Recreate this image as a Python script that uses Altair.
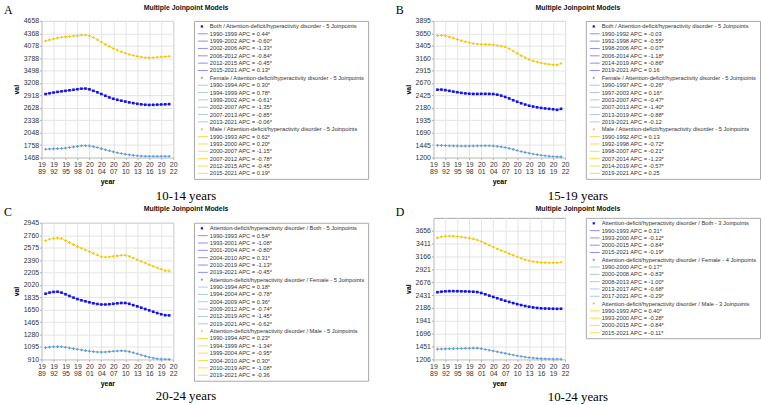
import altair as alt
import pandas as pd

years = list(range(1990, 2022))

# ---- 10-14 years ----
a_both = [2950, 2968, 2985, 3000, 3013, 3025, 3038, 3050, 3063, 3075, 3078, 3060, 3025, 2990, 2950, 2910,
          2870, 2840, 2815, 2795, 2775, 2755, 2738, 2722, 2710, 2700, 2695, 2698, 2702, 2706, 2710, 2714]
a_female = [1660, 1665, 1670, 1675, 1680, 1690, 1702, 1715, 1728, 1742, 1745, 1738, 1722, 1700, 1675, 1650,
            1625, 1600, 1580, 1562, 1545, 1530, 1518, 1508, 1502, 1498, 1496, 1496, 1496, 1496, 1496, 1496]
a_male = [4190, 4215, 4240, 4262, 4275, 4285, 4295, 4305, 4315, 4325, 4330, 4310, 4270, 4220, 4165, 4110,
          4060, 4015, 3975, 3940, 3905, 3875, 3850, 3830, 3815, 3800, 3795, 3800, 3810, 3818, 3825, 3832]

# ---- 15-19 years ----
b_both = [2538, 2540, 2530, 2515, 2500, 2488, 2475, 2465, 2458, 2455, 2455, 2456, 2456, 2455, 2452, 2440,
          2420, 2395, 2365, 2330, 2300, 2270, 2245, 2222, 2205, 2190, 2178, 2168, 2160, 2152, 2140, 2160]
b_female = [1440, 1438, 1435, 1432, 1430, 1428, 1426, 1425, 1426, 1428, 1430, 1432, 1433, 1432, 1428, 1420,
            1410, 1398, 1380, 1360, 1338, 1318, 1300, 1285, 1270, 1256, 1244, 1234, 1226, 1220, 1215, 1212]
b_male = [3605, 3610, 3605, 3580, 3555, 3530, 3505, 3485, 3465, 3450, 3440, 3435, 3432, 3428, 3420, 3410,
          3398, 3380, 3345, 3300, 3255, 3210, 3170, 3135, 3105, 3085, 3065, 3050, 3040, 3030, 3028, 3055]

# ---- 20-24 years ----
c_both = [1888, 1905, 1915, 1918, 1905, 1880, 1855, 1830, 1808, 1790, 1775, 1760, 1745, 1735, 1728, 1728,
          1732, 1738, 1745, 1750, 1750, 1738, 1718, 1700, 1680, 1660, 1640, 1620, 1600, 1582, 1568, 1565]
c_female = [1085, 1092, 1097, 1100, 1098, 1090, 1080, 1070, 1060, 1050, 1040, 1032, 1025, 1020, 1018, 1020,
            1025, 1030, 1035, 1038, 1035, 1025, 1010, 993, 975, 958, 942, 930, 920, 914, 912, 910]
c_male = [2680, 2700, 2712, 2718, 2712, 2680, 2650, 2620, 2590, 2565, 2540, 2515, 2490, 2465, 2440, 2432,
          2438, 2445, 2452, 2460, 2462, 2445, 2420, 2395, 2370, 2345, 2320, 2298, 2275, 2252, 2232, 2228]

# ---- 10-24 years ----
d_both = [2485, 2495, 2502, 2505, 2505, 2504, 2502, 2500, 2498, 2494, 2488, 2470, 2445, 2420, 2395, 2370,
          2345, 2322, 2300, 2278, 2258, 2240, 2222, 2208, 2195, 2185, 2178, 2175, 2172, 2170, 2168, 2170]
d_female = [1400, 1403, 1406, 1408, 1410, 1412, 1414, 1416, 1418, 1420, 1420, 1410, 1395, 1380, 1365, 1350,
            1335, 1320, 1305, 1290, 1275, 1262, 1250, 1240, 1232, 1225, 1220, 1216, 1214, 1212, 1211, 1210]
d_male = [3520, 3540, 3552, 3556, 3553, 3545, 3535, 3525, 3515, 3500, 3480, 3450, 3415, 3380, 3345, 3310,
          3280, 3250, 3220, 3190, 3160, 3130, 3105, 3085, 3068, 3058, 3052, 3048, 3046, 3045, 3046, 3055]

# y-axis tick values per panel
a_ticks = [1468 + 290 * i for i in range(12)]
b_ticks = [1200 + 245 * i for i in range(12)]
c_ticks = [910 + 185 * i for i in range(12)]
d_ticks = [1206 + 245 * i for i in range(11)]
d_top = 1206 + 245 * 11
x_ticks = list(range(1989, 2023, 3))

# legend texts
a_legend = [
    ("Both", "Both / Attention-deficit/hyperactivity disorder - 5 Joinpoints",
     ["1990-1999 APC =  0.44*", "1999-2002 APC = -0.60*", "2002-2006 APC = -1.33*",
      "2006-2012 APC = -0.84*", "2012-2015 APC = -0.45*", "2015-2021 APC =  0.13*"]),
    ("Female", "Female / Attention-deficit/hyperactivity disorder - 5 Joinpoints",
     ["1990-1994 APC =  0.30*", "1994-1999 APC =  0.78*", "1999-2002 APC = -0.61*",
      "2002-2007 APC = -1.35*", "2007-2013 APC = -0.85*", "2013-2021 APC = -0.06*"]),
    ("Male", "Male / Attention-deficit/hyperactivity disorder - 5 Joinpoints",
     ["1990-1993 APC =  0.62*", "1993-2000 APC =  0.20*", "2000-2007 APC = -1.15*",
      "2007-2012 APC = -0.78*", "2012-2015 APC = -0.45*", "2015-2021 APC =  0.19*"]),
]
b_legend = [
    ("Both", "Both / Attention-deficit/hyperactivity disorder - 5 Joinpoints",
     ["1990-1992 APC = -0.03", "1992-1998 APC = -0.55*", "1998-2006 APC = -0.07*",
      "2006-2014 APC = -1.18*", "2014-2019 APC = -0.86*", "2019-2021 APC =  0.16"]),
    ("Female", "Female / Attention-deficit/hyperactivity disorder - 5 Joinpoints",
     ["1990-1997 APC = -0.26*", "1997-2003 APC =  0.16*", "2003-2007 APC = -0.47*",
      "2007-2013 APC = -1.40*", "2013-2019 APC = -0.88*", "2019-2021 APC = -0.12"]),
    ("Male", "Male / Attention-deficit/hyperactivity disorder - 5 Joinpoints",
     ["1990-1992 APC =  0.13", "1992-1998 APC = -0.72*", "1998-2007 APC = -0.21*",
      "2007-2014 APC = -1.23*", "2014-2019 APC = -0.57*", "2019-2021 APC =  0.25"]),
]
c_legend = [
    ("Both", "Attention-deficit/hyperactivity disorder / Both - 5 Joinpoints",
     ["1990-1993 APC =  0.54*", "1993-2001 APC = -1.08*", "2001-2004 APC = -0.80*",
      "2004-2010 APC =  0.31*", "2010-2019 APC = -1.13*", "2019-2021 APC = -0.45*"]),
    ("Female", "Attention-deficit/hyperactivity disorder / Female - 5 Joinpoints",
     ["1990-1994 APC =  0.18*", "1994-2004 APC = -0.78*", "2004-2009 APC =  0.36*",
      "2009-2012 APC = -0.74*", "2012-2019 APC = -1.45*", "2019-2021 APC = -0.62*"]),
    ("Male", "Attention-deficit/hyperactivity disorder / Male - 5 Joinpoints",
     ["1990-1994 APC =  0.23*", "1994-1999 APC = -1.34*", "1999-2004 APC = -0.95*",
      "2004-2010 APC =  0.30*", "2010-2019 APC = -1.08*", "2019-2021 APC = -0.36"]),
]
d_legend = [
    ("Both", "Attention-deficit/hyperactivity disorder / Both - 3 Joinpoints",
     ["1990-1993 APC =  0.31*", "1993-2000 APC = -0.12*", "2000-2015 APC = -0.84*",
      "2015-2021 APC = -0.19*"]),
    ("Female", "Attention-deficit/hyperactivity disorder / Female - 4 Joinpoints",
     ["1990-2000 APC =  0.17*", "2000-2008 APC = -0.83*", "2008-2013 APC = -1.00*",
      "2013-2017 APC = -0.68*", "2017-2021 APC = -0.29*"]),
    ("Male", "Attention-deficit/hyperactivity disorder / Male - 3 Joinpoints",
     ["1990-1993 APC =  0.40*", "1993-2000 APC = -0.28*", "2000-2015 APC = -0.84*",
      "2015-2021 APC = -0.11*"]),
]

# per-series styling: (point colour, line colour, legend line colour, point shape)
STYLE = {
    "Both": ("#1010f0", "#7070ff", "#8c8cff", "square"),
    "Female": ("#5b9bd5", "#9cc0e4", "#a9c8e8", "cross"),
    "Male": ("#f2c600", "#ffdf4a", "#ffd84a", "cross"),
}
SANS = "Liberation Sans"
SERIF = "Liberation Serif"
ROW_H = 7.6
TAG_X = -38


def tag_layer(letter, tag_y, opacity):
    # panel letter placed to the upper left of the plot frame
    return alt.Chart(pd.DataFrame({"t": [letter]})).mark_text(
        font=SERIF, fontSize=12, align="left", baseline="middle", color="#000000", opacity=opacity
    ).encode(text="t:N", x=alt.value(TAG_X), y=alt.value(tag_y))


def plot_chart(letter, tag_y, both, female, male, ticks, top, height):
    x = alt.X("year:Q", title="year",
              scale=alt.Scale(domain=[1989, 2022], nice=False, zero=False),
              axis=alt.Axis(values=x_ticks, format="d",
                            labelExpr="[substring(datum.label, 0, 2), substring(datum.label, 2, 4)]",
                            labelFontSize=7, labelFont=SANS, labelColor="#333333", labelLineHeight=7,
                            labelOverlap=False, labelFlush=False,
                            titleFontSize=7, titleFont=SANS, titleFontWeight="bold", titlePadding=3,
                            gridColor="#e4e4e4", domain=False, tickSize=2, tickColor="#aaaaaa",
                            labelPadding=1))
    y = alt.Y("val:Q", title="val",
              scale=alt.Scale(domain=[ticks[0], top], nice=False, zero=False),
              axis=alt.Axis(values=ticks, format="d", labelFontSize=7, labelFont=SANS, labelColor="#333333",
                            labelOverlap=False, labelFlush=False,
                            titleFontSize=7, titleFont=SANS, titleFontWeight="bold", titlePadding=4,
                            gridColor="#e4e4e4", domain=False, tickSize=2, tickColor="#aaaaaa",
                            labelPadding=1))
    layers = []
    for name, vals in (("Male", male), ("Both", both), ("Female", female)):
        pc, lc, _, shp = STYLE[name]
        df = pd.DataFrame({"year": years, "val": vals})
        base = alt.Chart(df).encode(x=x, y=y)
        layers.append(base.mark_line(strokeWidth=1, color=lc))
        layers.append(base.mark_point(filled=True, size=7, opacity=1, color=pc, shape=shp))
    layers.append(tag_layer(letter, tag_y, 1))
    return alt.layer(*layers).properties(width=133, height=height)


def legend_chart(groups, letter, tag_y):
    rows = []
    i = 0
    for (series, header, items) in groups:
        rows.append({"i": i, "series": series, "kind": "header", "text": header})
        i += 1
        for it in items:
            rows.append({"i": i, "series": series, "kind": "item", "text": it})
            i += 1
    n = i
    df = pd.DataFrame(rows)
    y = alt.Y("i:Q", axis=None,
              scale=alt.Scale(domain=[-0.75, n - 0.25], reverse=True, nice=False, zero=False))
    layers = []
    for name in ("Both", "Female", "Male"):
        pc, _, llc, shp = STYLE[name]
        sub = df[df["series"] == name]
        items = sub[sub["kind"] == "item"]
        heads = sub[sub["kind"] == "header"]
        layers.append(alt.Chart(items).mark_rule(strokeWidth=1, color=llc).encode(
            y=y, x=alt.value(4), x2=alt.value(14)))
        layers.append(alt.Chart(heads).mark_point(filled=True, size=5, opacity=1, color=pc, shape=shp).encode(
            y=y, x=alt.value(8)))
    layers.append(alt.Chart(df).mark_text(font=SANS, fontSize=5.8, align="left", baseline="middle",
                                          color="#333333").encode(y=y, x=alt.value(16), text="text:N"))
    # invisible copy of the panel letter keeps the legend frame level with the plot frame
    layers.append(tag_layer(letter, tag_y, 0).encode(x=alt.value(20)))
    return alt.layer(*layers).properties(width=176, height=n * ROW_H)


def panel(letter, tag_y, caption, both, female, male, ticks, top, height, legend, caption_offset):
    inner = alt.hconcat(
        plot_chart(letter, tag_y, both, female, male, ticks, top, height),
        legend_chart(legend, letter, tag_y),
        spacing=15,
        title=alt.TitleParams("Multiple Joinpoint Models", font=SANS, fontSize=7, fontWeight="bold",
                              anchor="middle", offset=-7, color="#111111"),
    )
    return alt.vconcat(inner, title=alt.TitleParams(caption, orient="bottom", font=SERIF, fontSize=13,
                                                     fontWeight="normal", anchor="middle",
                                                     offset=caption_offset, color="#000000"))


pa = panel("A", -11, "10-14 years", a_both, a_female, a_male, a_ticks, a_ticks[-1], 138, a_legend, 5)
pb = panel("B", -11, "15-19 years", b_both, b_female, b_male, b_ticks, b_ticks[-1], 138, b_legend, 5)
pc = panel("C", -11, "20-24 years", c_both, c_female, c_male, c_ticks, c_ticks[-1], 138, c_legend, 4)
pd_ = panel("D", -6, "10-24 years", d_both, d_female, d_male, d_ticks, d_top, 143, d_legend, 5)

# two columns, so each lower panel sits directly under its upper neighbour
chart = alt.hconcat(
    alt.vconcat(pa, pc, spacing=2),
    alt.vconcat(pb, pd_, spacing=2),
    spacing=26,
).properties(padding={"left": 3, "top": 1, "right": 0, "bottom": 0}
).configure(background="white").configure_view(stroke="#a8a8a8", strokeWidth=1)

chart.save("out.html", embed_options={"renderer": "svg", "actions": False})
